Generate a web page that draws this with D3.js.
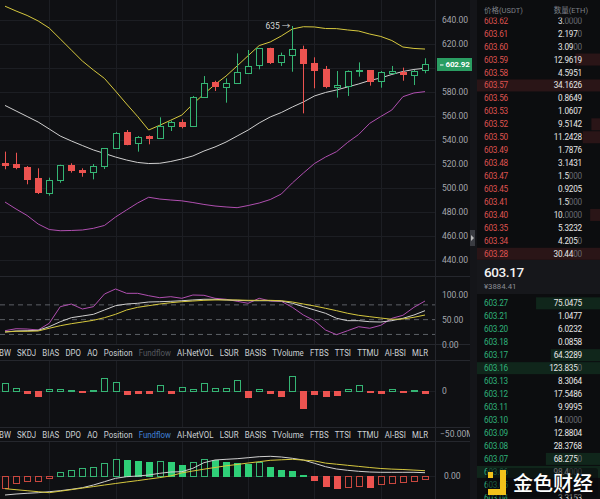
<!DOCTYPE html>
<html><head><meta charset="utf-8">
<script src="https://cdn.jsdelivr.net/npm/d3@7"></script>
<style>
html,body{margin:0;padding:0;background:#0f1013;overflow:hidden}
svg{display:block}
text{font-family:Roboto,"Noto Sans","Noto Sans CJK SC",sans-serif}
</style></head><body>
<svg id="c" width="600" height="499"></svg>
<script>
// ---------- DATA ----------
const opens  = [520.6,519.7,517.8,508.1,496.1,506.7,519.2,515.0,513.6,517.8,533.1,546.9,537.8,543.1,541.4,551.7,554.7,551.7,576.1,588.1,584.7,588.1,596.1,601.9,616.4,604.7,610.6,615.6,604.4,598.9,584.4,585.0,597.2,598.3,589.2,596.1,596.9,594.7,597.8];
const highs  = [530.3,529.4,518.3,516.4,508.6,519.4,520.6,516.4,520.0,533.3,546.7,548.3,543.3,543.9,558.9,556.1,557.2,576.7,593.3,589.4,591.4,612.2,615.0,616.7,616.9,612.8,635.0,618.6,608.9,601.7,597.5,598.0,604.7,598.3,597.5,601.7,600.3,598.3,608.1];
const lows   = [515.6,515.6,503.1,495.0,493.6,504.4,512.8,509.4,507.2,515.8,532.5,535.6,530.3,536.4,540.8,547.5,549.7,550.8,575.8,580.8,571.1,587.5,595.6,598.9,603.3,601.7,596.9,562.2,583.1,583.1,575.3,576.7,592.8,585.3,583.6,595.0,589.4,585.8,595.6];
const closes = [518.9,517.5,507.5,496.4,506.7,519.2,515.0,513.3,518.3,533.1,545.6,537.3,542.8,541.1,551.7,554.7,551.7,576.1,587.8,584.4,587.8,596.9,601.9,616.4,604.4,610.8,615.6,603.9,598.9,584.4,585.8,597.8,598.3,589.2,596.4,597.5,595.0,597.8,602.92];
const bollUpper = [651.5,647.5,643.8,639.2,633.3,624.2,615.0,605.8,598.3,591.3,580.8,570.0,559.6,548.3,552.3,556.5,560.8,570.0,578.3,586.3,593.3,601.7,610.3,618.7,621.7,626.7,632.5,634.4,634.2,632.9,632.8,631.7,630.8,628.3,626.3,622.9,617.5,616.3,615.8];
const bollMid   = [568.8,564.2,559.6,555.0,549.2,543.3,539.2,535.4,531.7,528.8,525.8,523.3,521.3,520.4,520.6,522.1,524.2,526.7,530.8,534.2,538.3,543.3,548.3,554.2,559.2,562.9,567.5,571.7,576.7,579.6,581.7,584.2,586.7,589.6,591.7,594.6,597.1,598.8,599.8];
const bollLower = [488.3,482.5,477.1,470.0,465.4,464.4,464.6,465.0,466.4,468.8,475.8,481.7,487.5,492.3,490.8,490.0,489.3,487.9,486.3,485.0,484.2,483.6,485.4,487.5,490.4,495.0,504.2,512.5,520.4,525.8,530.3,538.0,544.6,553.9,559.6,565.0,576.1,579.2,580.3];
const priceTicks = [640,620,600,580,560,540,520,500,480,460,440];
const lastPrice = 602.92;
const highMark = 635;

// oscillator panel (K, D, J)
const oscK = [25,27,27.6,28.4,35.7,45.8,54,57.4,60.8,69.6,78.3,81.7,83.2,85.8,86.4,87.2,88.4,89.9,91.3,91.3,89.9,89.2,88.4,88.4,88.4,87.8,83.2,76.3,69.6,62.9,52.7,47.9,47.9,45.8,45.2,47.9,52.7,59.4,68.2];
const oscD = [25,26.4,26.4,27,32.5,37.7,41.8,45.2,48.7,54,60.8,69.6,75,78.3,81.7,84.4,86.4,87.8,89.2,89.9,89.9,89.9,89.2,89.2,89.2,88.4,85.8,81.7,77.7,73,68.2,62.9,58.8,56,53.3,50.7,51.3,54.8,59.4];
const oscJ = [27.6,31.6,31,29,42.6,76.3,81.7,71.6,76.3,102,112.2,103.4,103.4,98.6,94.5,96.6,93.3,100,99.4,93.3,91.3,87.2,83.2,93.3,87.8,87.2,75,59.4,47.9,29,19.5,27.6,35.7,32.5,38.5,52.7,58.8,75,87.8];
const oscTicks = [100,50,0];
const oscLevels = [80,50,20];

// fund flow (millions)
const fundflow = [8.5,2.7,-2.3,-6.0,2.3,2.3,0.8,-1.5,0.8,14.2,9.6,-4.3,-3.0,-3.0,6.6,-3.0,3.9,1.6,8.5,3.1,2.7,12.4,-7.0,1.6,-2.3,-5.8,17.3,-19.4,-4.3,-5.8,-4.6,1.9,6.6,-1.5,-2.3,2.3,-1.5,0.8,-2.3];
const flowTicks = [0,-50];

// MACD panel
const macdHist = [-1.26,-0.70,-0.55,-0.48,-0.26,0.34,0.57,0.74,0.90,1.24,1.64,1.57,1.52,1.40,1.45,1.38,1.07,1.34,1.67,1.57,1.40,1.24,1.14,1.34,0.84,0.57,0.47,0.07,-0.43,-1.03,-1.26,-1.16,-1.03,-1.10,-0.83,-0.70,-0.60,-0.53,-0.36];
const macdDif  = [-1.93,-1.83,-1.76,-1.70,-1.60,-1.50,-1.36,-1.20,-0.93,-0.60,-0.26,-0.10,-0.03,0.07,0.24,0.37,0.40,0.74,1.30,1.57,1.64,1.70,1.80,1.90,1.94,1.87,1.74,1.57,1.24,0.90,0.67,0.54,0.44,0.37,0.34,0.34,0.34,0.34,0.30];
const macdDea  = [-1.30,-1.40,-1.50,-1.60,-1.70,-1.55,-1.40,-1.24,-1.09,-0.93,-0.78,-0.63,-0.49,-0.34,-0.19,-0.02,0.28,0.47,0.65,0.82,0.99,1.12,1.27,1.40,1.54,1.59,1.64,1.56,1.48,1.26,1.15,1.04,0.93,0.82,0.72,0.66,0.62,0.56,0.50];

const tabs = ["BW","SKDJ","BIAS","DPO","AO","Position","Fundflow","AI-NetVOL","LSUR","BASIS","TVolume","FTBS","TTSI","TTMU","AI-BSI","MLR"];

// order book
const askPrices = ["603.62","603.61","603.60","603.59","603.58","603.57","603.56","603.53","603.52","603.50","603.49","603.48","603.47","603.45","603.41","603.40","603.35","603.34","603.28"];
const askQty    = ["3.0000","2.1970","3.0900","12.9619","4.5951","34.1626","0.8649","1.0607","9.5142","11.2428","1.7876","3.1431","1.5000","0.9205","1.5000","10.0000","5.3232","4.2050","30.4400"];
const askDepth  = [0,0,0,0.2,0,1,0,0,0.07,0.14,0,0,0,0,0,0.08,0,0,1];
const bidPrices = ["603.27","603.21","603.20","603.18","603.17","603.16","603.13","603.12","603.11","603.10","603.09","603.08","603.07","603.06","603.05","603.04"];
const bidQty    = ["75.0475","1.0477","6.0232","0.0858","64.3289","123.8350","8.3064","17.5486","9.9995","14.0000","12.8804","28.3768","68.2750","98.4000","","3.3153"];
const bidDepth  = [0.52,0,0,0,0.4,1,0,0,0,0,0,0,0.44,1,0,0];
const midPrice = "603.17";
const midCny = "¥3884.41";

// ---------- STYLE ----------
const BG = '#0f1013', BOOKBG = '#0c0d0f', GRID = '#1c1e23', SEP = '#25272d';
const GREEN = '#35b574', GREENF = '#2fcf78', RED = '#ec5350';
const YEL = '#d6c83e', WHT = '#cfcfcf', MAG = '#b04fb0';
const AXIS = '#a4a7ae';
const PLOT_R = 435;

const svg = d3.select('#c');
svg.append('rect').attr('width',600).attr('height',499).attr('fill',BG);

const n = closes.length;
const x = d3.scaleLinear().domain([0, n-1]).range([5, 425]);
const px = i => Math.round(x(i)) + 0.5;
const gridIdx = [4,10,16,22,28,34];
const idx = d3.range(n);

const yMain = d3.scaleLinear().domain([440,640]).range([260,20]);
const yOsc  = d3.scaleLinear().domain([0,100]).range([344.3,295]);
const yFlow = d3.scaleLinear().domain([-50,0]).range([434,390.7]);
const yMacd = d3.scaleLinear().domain([0,1]).range([475.7,465.7]);

const panels = [[0,276],[276,344],[360,427],[441,499]];

// vertical grid
panels.forEach(([t,b]) => {
  svg.append('g').selectAll('line').data(gridIdx).join('line')
    .attr('x1', d => px(d)).attr('x2', d => px(d)).attr('y1', t).attr('y2', b)
    .attr('stroke', GRID).attr('stroke-width',1);
});
// horizontal main grid
svg.append('g').selectAll('line').data(priceTicks).join('line')
  .attr('x1',0).attr('x2',PLOT_R).attr('y1',d=>Math.round(yMain(d))+0.5).attr('y2',d=>Math.round(yMain(d))+0.5)
  .attr('stroke',GRID);
// separators
[276,344,360,427,441].forEach(y => svg.append('line').attr('x1',0).attr('x2',470).attr('y1',y+0.5).attr('y2',y+0.5).attr('stroke',SEP));
svg.append('line').attr('x1',PLOT_R+0.5).attr('x2',PLOT_R+0.5).attr('y1',0).attr('y2',499).attr('stroke',SEP);

// ---------- MAIN: bollinger ----------
const mk = (arr, ys) => d3.line().x((d,i)=>x(i)).y(d=>ys(d))(arr);
svg.append('path').attr('d', mk(bollUpper,yMain)).attr('fill','none').attr('stroke',YEL).attr('stroke-width',1);
svg.append('path').attr('d', mk(bollMid,yMain)).attr('fill','none').attr('stroke',WHT).attr('stroke-width',1);
svg.append('path').attr('d', mk(bollLower,yMain)).attr('fill','none').attr('stroke',MAG).attr('stroke-width',1);

// candles
const cg = svg.append('g');
idx.forEach(i => {
  const up = closes[i] >= opens[i];
  const col = up ? GREEN : RED;
  const cx = px(i);
  cg.append('line').attr('x1',cx).attr('x2',cx).attr('y1',yMain(highs[i])).attr('y2',yMain(lows[i])).attr('stroke',col);
  const yt = yMain(Math.max(opens[i],closes[i])), yb = yMain(Math.min(opens[i],closes[i]));
  cg.append('rect').attr('x',cx-3).attr('width',6).attr('y',Math.round(yt)+0.5).attr('height',Math.max(1,Math.round(yb-yt)))
    .attr('fill', up ? BG : RED).attr('stroke', col).attr('stroke-width',1);
});

// high marker
const hi = highs.indexOf(d3.max(highs));
svg.append('text').attr('x', x(hi)-2).attr('y', yMain(highMark)+3).attr('text-anchor','end')
  .attr('font-size',8.5).attr('fill','#d6d6d6').text(highMark + ' →');

// price axis (the label hidden under the last-price tag is not drawn)
const visibleTicks = priceTicks.filter(t => Math.abs(yMain(t) - yMain(lastPrice)) > 8);
const axMain = svg.append('g').attr('transform',`translate(${PLOT_R},0)`)
  .call(d3.axisRight(yMain).tickValues(visibleTicks).tickSize(0).tickPadding(7).tickFormat(d3.format('.2f')));
axMain.select('.domain').remove();
axMain.selectAll('text').attr('fill',AXIS).attr('font-size',8.5).attr('font-family','Roboto, sans-serif');

// ---------- PANEL 1: oscillator ----------
svg.append('g').selectAll('line').data(oscLevels).join('line')
  .attr('x1',0).attr('x2',PLOT_R).attr('y1',d=>yOsc(d)).attr('y2',d=>yOsc(d))
  .attr('stroke','#5d6066').attr('stroke-dasharray','5,4');
svg.append('path').attr('d', mk(oscJ,yOsc)).attr('fill','none').attr('stroke',MAG);
svg.append('path').attr('d', mk(oscK,yOsc)).attr('fill','none').attr('stroke',WHT);
svg.append('path').attr('d', mk(oscD,yOsc)).attr('fill','none').attr('stroke',YEL);
const axOsc = svg.append('g').attr('transform',`translate(${PLOT_R},0)`)
  .call(d3.axisRight(yOsc).tickValues(oscTicks).tickSize(0).tickPadding(7).tickFormat(d3.format('.2f')));
axOsc.select('.domain').remove();
axOsc.selectAll('text').attr('fill',AXIS).attr('font-size',8.5).attr('font-family','Roboto, sans-serif');

// ---------- TAB ROWS (condensed labels) ----------
function tabRow(y, activeColor) {
  const g = svg.append('g');
  const fs = 9.2;
  const texts = tabs.map(t => g.append('text').attr('font-size',fs)
      .attr('fill', t === 'Fundflow' ? activeColor : '#cdd0d5').text(t));
  const widths = texts.map(t => t.node().getComputedTextLength());
  const gap = 6.2;
  const k = (429 - gap*(tabs.length-1)) / d3.sum(widths);
  let cx = -1;
  texts.forEach((t,i) => {
    t.attr('transform', `translate(${cx},${y}) scale(${k},1)`);
    cx += widths[i]*k + gap;
  });
}
tabRow(355.5, '#55585f');
tabRow(437.5, '#3f80d8');

// ---------- PANEL 2: fund flow ----------
svg.append('line').attr('x1',0).attr('x2',PLOT_R).attr('y1',Math.round(yFlow(0))+0.5).attr('y2',Math.round(yFlow(0))+0.5).attr('stroke',GRID);
const fg = svg.append('g');
idx.forEach(i => {
  const v = fundflow[i], cx = px(i);
  const y0 = Math.round(yFlow(0)), y1 = Math.round(yFlow(v));
  const top = Math.min(y0,y1), h = Math.max(1, Math.abs(y1-y0));
  fg.append('rect').attr('x',cx-3).attr('width',6).attr('y',top+0.5).attr('height',h)
    .attr('fill', v>=0 ? BG : RED).attr('stroke', v>=0 ? GREEN : RED);
});
const axFlow = svg.append('g').attr('transform',`translate(${PLOT_R},0)`)
  .call(d3.axisRight(yFlow).tickValues(flowTicks).tickSize(0).tickPadding(7)
  .tickFormat(d => d===0 ? '0' : d3.format('.2f')(d)+'M'));
axFlow.select('.domain').remove();
axFlow.selectAll('text').attr('fill',AXIS).attr('font-size',8.5).attr('font-family','Roboto, sans-serif');
axFlow.selectAll('.tick').filter(d=>d===-50).select('text').attr('dx',-2);

// ---------- PANEL 3: MACD ----------
svg.append('line').attr('x1',0).attr('x2',PLOT_R).attr('y1',Math.round(yMacd(0))+0.5).attr('y2',Math.round(yMacd(0))+0.5).attr('stroke',GRID);
const mg = svg.append('g');
idx.forEach(i => {
  const v = macdHist[i], cx = px(i);
  const rising = i===0 ? true : v > macdHist[i-1];
  const col = v>=0 ? GREENF : RED;
  const y0 = Math.round(yMacd(0)), y1 = Math.round(yMacd(v));
  const top = Math.min(y0,y1), h = Math.max(1, Math.abs(y1-y0));
  mg.append('rect').attr('x',cx-3).attr('width',6).attr('y',top+0.5).attr('height',h)
    .attr('fill', rising ? BG : col).attr('stroke', v>=0 && rising ? GREEN : (v<0 && rising ? '#c8473f' : col));
});
svg.append('path').attr('d', mk(macdDif,yMacd)).attr('fill','none').attr('stroke',WHT);
svg.append('path').attr('d', mk(macdDea,yMacd)).attr('fill','none').attr('stroke',YEL);
const axMacd = svg.append('g').attr('transform',`translate(${PLOT_R},0)`)
  .call(d3.axisRight(yMacd).tickValues([0]).tickSize(0).tickPadding(9).tickFormat(d3.format('.2f')));
axMacd.select('.domain').remove();
axMacd.selectAll('text').attr('fill',AXIS).attr('font-size',8.5).attr('font-family','Roboto, sans-serif');

// ---------- ORDER BOOK ----------
const OB = 477;
svg.append('rect').attr('x',470).attr('y',0).attr('width',7).attr('height',499).attr('fill','#141519');
svg.append('rect').attr('x',OB).attr('y',0).attr('width',600-OB).attr('height',499).attr('fill',BOOKBG);
svg.append('rect').attr('x',470).attr('y',230).attr('width',5).attr('height',16).attr('fill','#3a3c42');
svg.append('path').attr('d','M471,235 L474,238 L471,241 Z').attr('fill','#bbb');

// last price tag (on top of the divider strip)
const yl = yMain(lastPrice);
svg.append('rect').attr('x',437).attr('y',yl-6.5).attr('width',35).attr('height',13).attr('fill','#2a9d62');
svg.append('line').attr('x1',440).attr('x2',443.5).attr('y1',yl+0.5).attr('y2',yl+0.5).attr('stroke','#fff');
svg.append('text').attr('x',445.5).attr('y',yl+3).attr('font-size',8).attr('font-weight','bold').attr('letter-spacing','-0.2')
  .attr('fill','#fff').text(lastPrice.toFixed(2));

const ob = svg.append('g');
const defs = svg.append('defs');
defs.append('clipPath').attr('id','askclip').append('rect').attr('x',OB).attr('y',17.5).attr('width',123).attr('height',243);
const askG = ob.append('g').attr('clip-path','url(#askclip)');
const rowH = 12.95;
const depthW = d3.scaleLinear().domain([0,1]).range([0,123]);
function qtyText(g, xr, y, q) {
  const m = q.match(/^(\d+\.\d*?)(0*)$/);
  const t = g.append('text').attr('x',xr).attr('y',y).attr('text-anchor','end').attr('font-size',8.2).attr('letter-spacing','-0.2');
  if (m) { t.append('tspan').attr('fill','#e6e6e6').text(m[1]); t.append('tspan').attr('fill','#666a71').text(m[2]); }
  else t.attr('fill','#e6e6e6').text(q);
}
askPrices.forEach((p,i) => {
  const yc = 20.7 + rowH*i;
  if (askDepth[i] > 0) askG.append('rect').attr('x',600-depthW(askDepth[i])).attr('y',yc-6).attr('width',depthW(askDepth[i])).attr('height',12).attr('fill','#2a1517');
  askG.append('text').attr('x',484).attr('y',yc+3).attr('font-size',8.2).attr('letter-spacing','-0.2').attr('fill','#df5350').text(p);
  qtyText(askG, 582, yc+3, askQty[i]);
});
ob.append('text').attr('x',484).attr('y',13).attr('font-size',7.5).attr('fill','#7d8087').text('价格(USDT)');
ob.append('text').attr('x',588).attr('y',13).attr('text-anchor','end').attr('font-size',7.5).attr('fill','#7d8087').text('数量(ETH)');

ob.append('rect').attr('x',OB).attr('y',260).attr('width',123).attr('height',34).attr('fill','#16171b');
ob.append('text').attr('x',484).attr('y',277).attr('font-size',13.5).attr('font-weight',500).attr('letter-spacing','-0.4').attr('fill','#f2f2f2').text(midPrice);
ob.append('text').attr('x',484).attr('y',289).attr('font-size',7.8).attr('fill','#8a8d94').text(midCny);

bidPrices.forEach((p,i) => {
  const yc = 303.3 + 12.97*i;
  if (bidDepth[i] > 0) ob.append('rect').attr('x',600-depthW(bidDepth[i])).attr('y',yc-6).attr('width',depthW(bidDepth[i])).attr('height',12).attr('fill','#10261b');
  ob.append('text').attr('x',484).attr('y',yc+3).attr('font-size',8.2).attr('letter-spacing','-0.2').attr('fill','#2fb27a').text(p);
  if (bidQty[i]) qtyText(ob, 582, yc+3, bidQty[i]);
});

// watermark logo
const lg = svg.append('g');
lg.append('rect').attr('x',486).attr('y',468).attr('width',112).attr('height',29).attr('rx',3).attr('fill','rgba(10,10,12,0.55)');
lg.append('rect').attr('x',488).attr('y',472).attr('width',5).attr('height',6).attr('fill','#f3c21b');
lg.append('rect').attr('x',500).attr('y',470).attr('width',6).attr('height',25).attr('fill','#f3c21b');
lg.append('rect').attr('x',488).attr('y',489).attr('width',18).attr('height',6).attr('fill','#f3c21b');
lg.append('text').attr('x',513).attr('y',491).attr('font-size',20).attr('font-family','"Noto Sans CJK SC", sans-serif')
  .attr('fill','#ffffff').attr('font-weight',500).text('金色财经');
</script></body></html>
